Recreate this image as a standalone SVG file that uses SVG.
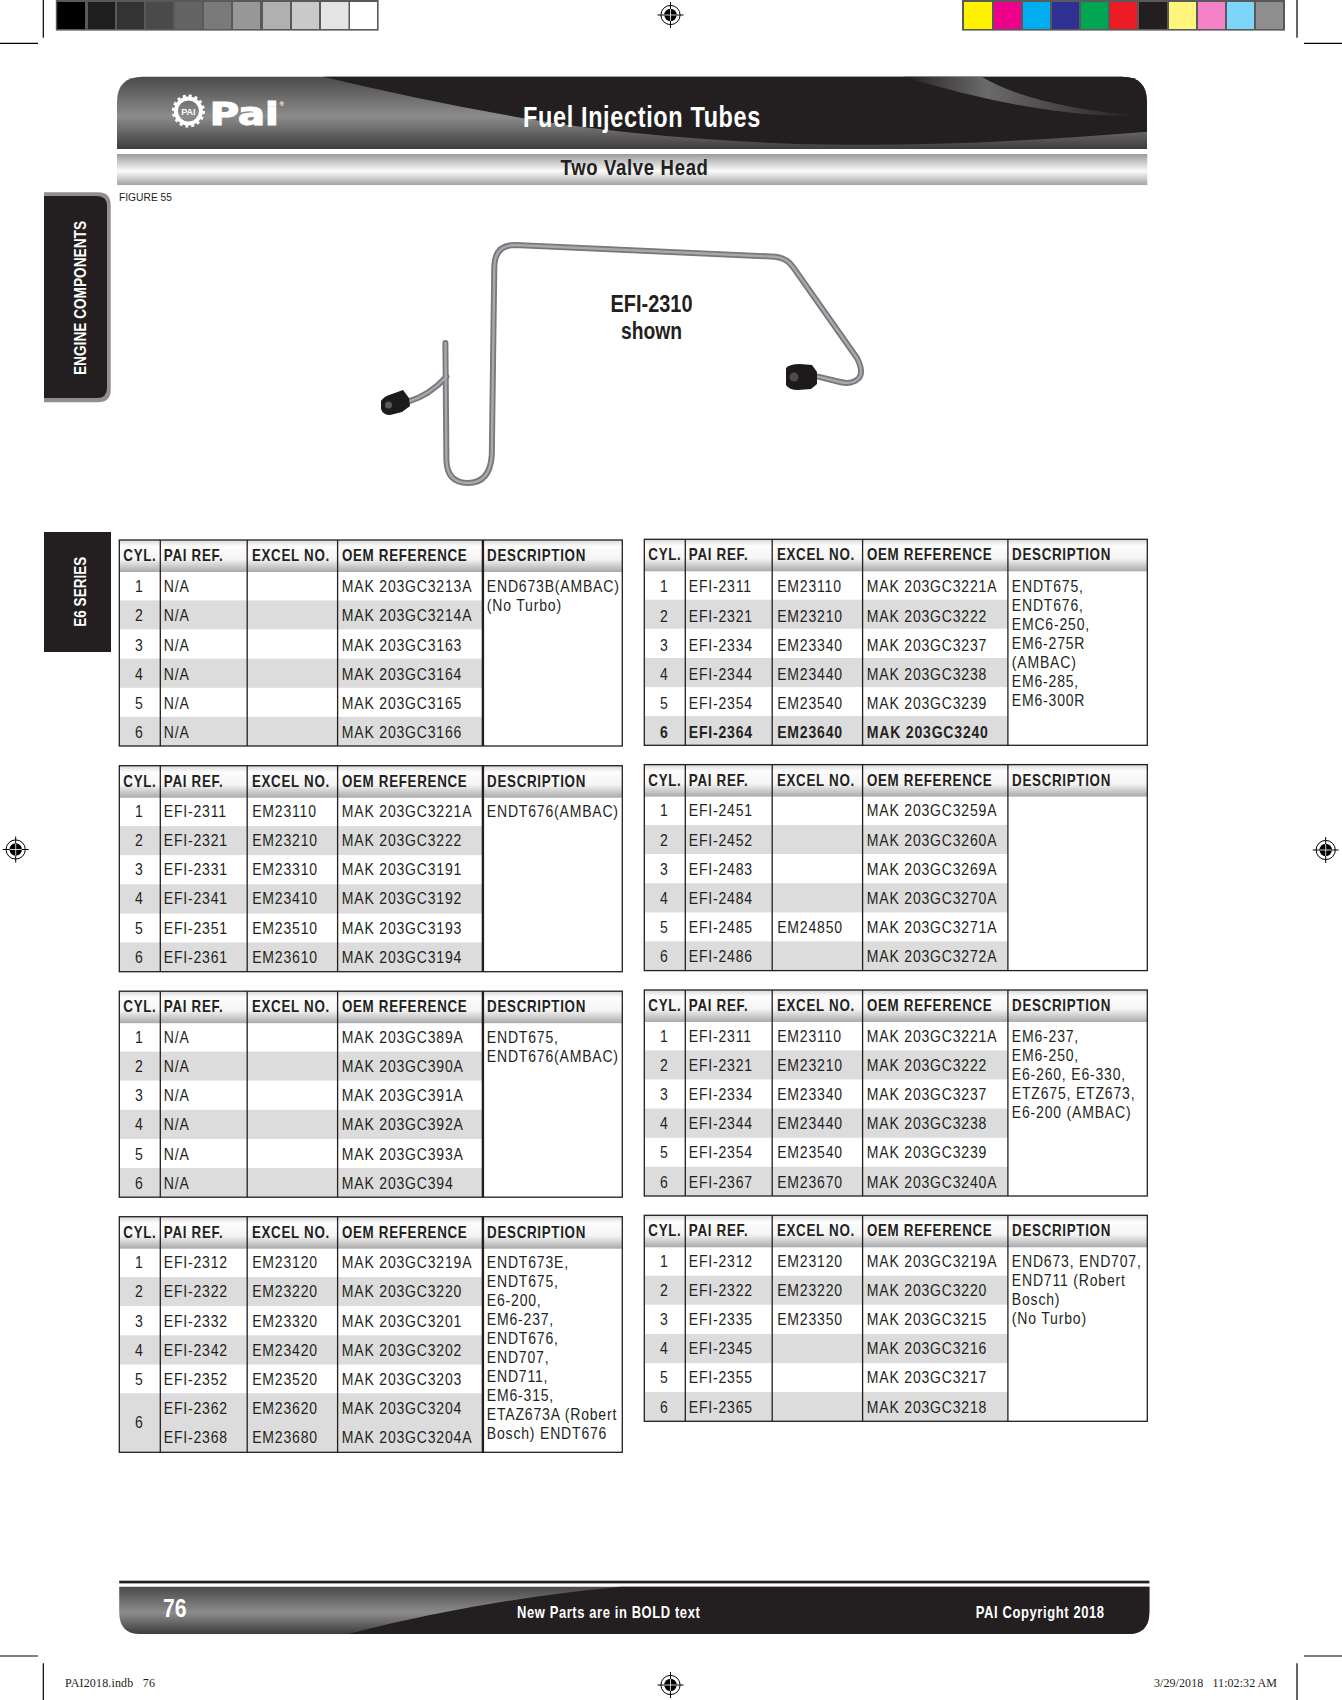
<svg xmlns="http://www.w3.org/2000/svg" width="1342" height="1700" viewBox="0 0 1342 1700">
<style>
text{font-family:"Liberation Sans",Arial,sans-serif;fill:#231f20}
.t text{font-size:16.3px;letter-spacing:.95px;transform-box:fill-box;transform-origin:0 50%;transform:scaleX(.86)}
.t text.c{text-anchor:middle;transform-origin:50% 50%}
.b text,text.b{font-weight:bold}
.h text{font-size:16.3px;font-weight:bold;letter-spacing:.85px;transform-box:fill-box;transform-origin:0 50%;transform:scaleX(.82)}
text.w{fill:#fff;font-weight:bold}
text.ls{letter-spacing:.8px}
.s{font-family:"Liberation Serif",serif;font-size:12px}
.tube{fill:none;stroke:#77777c;stroke-width:6;stroke-linecap:round;stroke-linejoin:round}
.tube2{fill:none;stroke:#a9a9ad;stroke-width:2.4;stroke-linecap:round;stroke-linejoin:round}
.crop{stroke:#000;stroke-width:1.2;fill:none}
</style>
<defs>
<linearGradient id="hg" x1="0" y1="0" x2="0" y2="1"><stop offset="0" stop-color="#d8d8d8"/><stop offset=".2" stop-color="#fdfdfd"/><stop offset=".6" stop-color="#f4f4f4"/><stop offset="1" stop-color="#aaa"/></linearGradient>
<linearGradient id="dk" x1="0" y1="0" x2="0" y2="1"><stop offset="0" stop-color="#4a4a4c"/><stop offset=".55" stop-color="#8c8c8c"/><stop offset="1" stop-color="#3e3c3d"/></linearGradient>
<linearGradient id="sub" x1="0" y1="0" x2="0" y2="1"><stop offset="0" stop-color="#9b9b9b"/><stop offset=".55" stop-color="#fbfbfb"/><stop offset="1" stop-color="#a3a3a3"/></linearGradient>
<linearGradient id="sw" x1="0" y1="0" x2="1" y2="0"><stop offset="0" stop-color="#231f20"/><stop offset=".35" stop-color="#6a6a6a"/><stop offset="1" stop-color="#231f20"/></linearGradient>
<g id="reg"><circle r="9.6" fill="#fff" stroke="#000" stroke-width="1"/><circle r="6.2" fill="#000"/><path d="M-13 0H13M0-13V13" stroke="#000" stroke-width="1"/><path d="M-6 0H6M0-6V6" stroke="#fff" stroke-width=".8"/></g>
<g id="hdr" class="h"><rect width="503" height="32" fill="url(#hg)"/><text x="4" y="21.200">CYL.</text><text x="44.500" y="21.200">PAI REF.</text><text x="132.600" y="21.200">EXCEL NO.</text><text x="222.600" y="21.200">OEM REFERENCE</text><text x="367.800" y="21.200">DESCRIPTION</text></g>
<g id="shade" fill="#dcdcdc"><rect y="60.400" width="363.600" height="29"/><rect y="118.600" width="363.600" height="29.200"/><rect y="176.800" width="363.600" height="29.200"/></g>
<g id="cols" stroke="#231f20" stroke-width="1.300"><path d="M41 0V206M127.900 0V206M218.300 0V206"/><rect width="503" height="206" fill="none"/></g>
<path id="c4t" d="M363.600 0V206" stroke="#231f20" stroke-width="2.400"/>
<path id="c4r" d="M363.600 0V206" stroke="#231f20" stroke-width="1.300"/>
</defs>
<rect width="1342" height="1700" fill="#fff"/>
<g id="printer-marks">
<path class="crop" d="M43.300 0V37.700M0 43.300H38M1297 0V37.700M1304 43.300H1342M0 1656H38M43.300 1663.300V1700M1304 1656H1342M1297 1663.300V1700"/>
<rect x="55.800" y="-2" width="322.800" height="32.600" fill="#58595b"/>
<g id="gray-bar"><rect x="57.200" y="2" width="27.800" height="27" fill="#000"/><rect x="88" y="2" width="27" height="27" fill="#1e1e1e"/><rect x="117" y="2" width="27" height="27" fill="#333"/><rect x="146" y="2" width="27" height="27" fill="#4a4a4a"/><rect x="175" y="2" width="27" height="27" fill="#636363"/><rect x="204" y="2" width="27" height="27" fill="#7a7a7a"/><rect x="233" y="2" width="27" height="27" fill="#979797"/><rect x="263" y="2" width="27" height="27" fill="#b0b0b0"/><rect x="292" y="2" width="27" height="27" fill="#c9c9c9"/><rect x="321" y="2" width="27.500" height="27" fill="#e4e4e4"/><rect x="350" y="2" width="27" height="27" fill="#fff"/></g>
<rect x="962" y="-2" width="323" height="32.600" fill="#58595b"/>
<g id="color-bar"><rect x="964" y="2" width="28" height="27" fill="#fff200"/><rect x="994" y="2" width="27" height="27" fill="#ec008c"/><rect x="1023" y="2" width="27" height="27" fill="#00aeef"/><rect x="1052" y="2" width="27" height="27" fill="#2e3192"/><rect x="1081" y="2" width="27" height="27" fill="#00a651"/><rect x="1110" y="2" width="27" height="27" fill="#ed1c24"/><rect x="1139" y="2" width="28" height="27" fill="#231f20"/><rect x="1169" y="2" width="27" height="27" fill="#fff57d"/><rect x="1198" y="2" width="27" height="27" fill="#f582c6"/><rect x="1227" y="2" width="27" height="27" fill="#7dd6fa"/><rect x="1256" y="2" width="27" height="27" fill="#8e8e8e"/></g>
<use href="#reg" x="670.500" y="15"/><use href="#reg" x="15.700" y="849.500"/><use href="#reg" x="1325.700" y="850"/><use href="#reg" x="670.500" y="1685"/>
</g>
<g id="title-band">
<path d="M117 149V102Q117 76.700 143 76.700H1122Q1147 76.700 1147 102V149Z" fill="url(#dk)"/>
<path d="M323 76.700H1122Q1147 76.700 1147 102V131.700Q950 148 798 144Q640 138 522 118Q420 100 323 76.700Z" fill="#231f20"/>
<path d="M903.700 76.700H981.800Q1030 106 1140 116Q1040 118 903.700 76.700Z" fill="url(#sw)"/>
<g id="pai-logo"><circle cx="188.400" cy="111" r="12.500" fill="none" stroke="#fff" stroke-width="4"/><circle cx="188.400" cy="111" r="15.300" fill="none" stroke="#fff" stroke-width="2.500" stroke-dasharray="3 3"/><text x="188.400" y="114.500" text-anchor="middle" font-size="9" class="w">PAI</text><text x="209.800" y="125" class="w" style="font-family:'DejaVu Sans'" stroke="#fff" stroke-width="1.200" font-size="32" textLength="69" lengthAdjust="spacingAndGlyphs">Pai</text><text x="279.500" y="106" class="w" font-size="6">®</text></g>
<text x="523" y="127.300" class="w ls" font-size="29" textLength="238" lengthAdjust="spacingAndGlyphs">Fuel Injection Tubes</text>
</g>
<g id="subtitle-band"><rect x="117" y="154" width="1030.300" height="31" fill="url(#sub)"/><text x="560.600" y="175" class="b ls" font-size="22" textLength="148" lengthAdjust="spacingAndGlyphs">Two Valve Head</text></g>
<text id="figure-label" x="119" y="200.500" font-size="11.500" textLength="53" lengthAdjust="spacingAndGlyphs">FIGURE 55</text>
<g id="tab-engine"><path d="M44 192.300H98Q110.700 192.300 110.700 205V390Q110.700 402.300 98 402.300H44Z" fill="#8f8f8f"/><path d="M44 196H97Q107 196 107 206V388Q107 398 97 398H44Z" fill="#231f20"/><text transform="translate(85.700 375) rotate(-90)" class="w" font-size="16.500" textLength="154" lengthAdjust="spacingAndGlyphs">ENGINE COMPONENTS</text></g>
<g id="tab-e6"><rect x="44" y="532" width="67" height="120" fill="#231f20"/><text transform="translate(85.600 626.700) rotate(-90)" class="w" font-size="16.500" textLength="70" lengthAdjust="spacingAndGlyphs">E6 SERIES</text></g>
<g id="tube-figure">
<path class="tube" d="M445.400 343L446.400 460Q447 483 468 483Q490 483 491.800 455L494.300 266Q495 245 515 245L775 256.700Q787 258 793 267L857 358Q864 372 859 378Q852 385 840 382L818 376.700"/>
<path class="tube" d="M446.400 376.700Q430 395 408 401.700"/>
<path class="tube2" d="M445.400 343L446.400 460Q447 483 468 483Q490 483 491.800 455L494.300 266Q495 245 515 245L775 256.700Q787 258 793 267L857 358Q864 372 859 378Q852 385 840 382L818 376.700"/>
<path class="tube2" d="M446.400 376.700Q430 395 408 401.700"/>
<path d="M786 368Q790 364 800 364L812 365L817 372V384L811 389L798 390Q789 390 786 385Z" fill="#1c1a1b"/><circle cx="794" cy="377" r="4.500" fill="#4c4a4b"/>
<path d="M381 401Q384 396 392 394L403 390L409 398L410 406L402 412L390 415Q383 415 381 409Z" fill="#1c1a1b"/><circle cx="388.500" cy="405" r="3.500" fill="#5c5a5b"/>
<text x="610.500" y="311.700" class="b" font-size="23" textLength="82" lengthAdjust="spacingAndGlyphs">EFI-2310</text>
<text x="621" y="339" class="b" font-size="23" textLength="61" lengthAdjust="spacingAndGlyphs">shown</text>
</g>

<g id="table-1" transform="translate(119.300 540)"><use href="#shade"/><use href="#hdr"/><use href="#cols"/><use href="#c4t"/><g class="t" transform="translate(-.5 -.6)">
<g transform="translate(0 52.800)"><text class="c" x="20.500">1</text><text x="45">N/A</text><text x="223">MAK 203GC3213A</text><text x="368">END673B(AMBAC)</text><text x="368" y="19">(No Turbo)</text></g>
<g transform="translate(0 81.950)"><text class="c" x="20.500">2</text><text x="45">N/A</text><text x="223">MAK 203GC3214A</text></g>
<g transform="translate(0 111.100)"><text class="c" x="20.500">3</text><text x="45">N/A</text><text x="223">MAK 203GC3163</text></g>
<g transform="translate(0 140.250)"><text class="c" x="20.500">4</text><text x="45">N/A</text><text x="223">MAK 203GC3164</text></g>
<g transform="translate(0 169.400)"><text class="c" x="20.500">5</text><text x="45">N/A</text><text x="223">MAK 203GC3165</text></g>
<g transform="translate(0 198.550)"><text class="c" x="20.500">6</text><text x="45">N/A</text><text x="223">MAK 203GC3166</text></g>
</g></g>

<g id="table-2" transform="translate(644.300 539.300)"><use href="#shade"/><use href="#hdr"/><use href="#cols"/><use href="#c4r"/><g class="t" transform="translate(-.5 .3)">
<g transform="translate(0 52.800)"><text class="c" x="20.500">1</text><text x="45">EFI-2311</text><text x="133.400">EM23110</text><text x="223">MAK 203GC3221A</text><text x="368">ENDT675,</text><text x="368" y="19">ENDT676,</text><text x="368" y="38">EMC6-250,</text><text x="368" y="57">EM6-275R</text><text x="368" y="76">(AMBAC)</text><text x="368" y="95">EM6-285,</text><text x="368" y="114">EM6-300R</text></g>
<g transform="translate(0 81.950)"><text class="c" x="20.500">2</text><text x="45">EFI-2321</text><text x="133.400">EM23210</text><text x="223">MAK 203GC3222</text></g>
<g transform="translate(0 111.100)"><text class="c" x="20.500">3</text><text x="45">EFI-2334</text><text x="133.400">EM23340</text><text x="223">MAK 203GC3237</text></g>
<g transform="translate(0 140.250)"><text class="c" x="20.500">4</text><text x="45">EFI-2344</text><text x="133.400">EM23440</text><text x="223">MAK 203GC3238</text></g>
<g transform="translate(0 169.400)"><text class="c" x="20.500">5</text><text x="45">EFI-2354</text><text x="133.400">EM23540</text><text x="223">MAK 203GC3239</text></g>
<g transform="translate(0 198.550)" class="b"><text class="c" x="20.500">6</text><text x="45">EFI-2364</text><text x="133.400">EM23640</text><text x="223">MAK 203GC3240</text></g>
</g></g>

<g id="table-3" transform="translate(119.300 765.700)"><use href="#shade"/><use href="#hdr"/><use href="#cols"/><use href="#c4t"/><g class="t" transform="translate(-.5 -1.500)">
<g transform="translate(0 52.800)"><text class="c" x="20.500">1</text><text x="45">EFI-2311</text><text x="133.400">EM23110</text><text x="223">MAK 203GC3221A</text><text x="368">ENDT676(AMBAC)</text></g>
<g transform="translate(0 81.950)"><text class="c" x="20.500">2</text><text x="45">EFI-2321</text><text x="133.400">EM23210</text><text x="223">MAK 203GC3222</text></g>
<g transform="translate(0 111.100)"><text class="c" x="20.500">3</text><text x="45">EFI-2331</text><text x="133.400">EM23310</text><text x="223">MAK 203GC3191</text></g>
<g transform="translate(0 140.250)"><text class="c" x="20.500">4</text><text x="45">EFI-2341</text><text x="133.400">EM23410</text><text x="223">MAK 203GC3192</text></g>
<g transform="translate(0 169.400)"><text class="c" x="20.500">5</text><text x="45">EFI-2351</text><text x="133.400">EM23510</text><text x="223">MAK 203GC3193</text></g>
<g transform="translate(0 198.550)"><text class="c" x="20.500">6</text><text x="45">EFI-2361</text><text x="133.400">EM23610</text><text x="223">MAK 203GC3194</text></g>
</g></g>

<g id="table-4" transform="translate(644.300 764.600)"><use href="#shade"/><use href="#hdr"/><use href="#cols"/><use href="#c4r"/><g class="t" transform="translate(-.5 -1)">
<g transform="translate(0 52.800)"><text class="c" x="20.500">1</text><text x="45">EFI-2451</text><text x="223">MAK 203GC3259A</text></g>
<g transform="translate(0 81.950)"><text class="c" x="20.500">2</text><text x="45">EFI-2452</text><text x="223">MAK 203GC3260A</text></g>
<g transform="translate(0 111.100)"><text class="c" x="20.500">3</text><text x="45">EFI-2483</text><text x="223">MAK 203GC3269A</text></g>
<g transform="translate(0 140.250)"><text class="c" x="20.500">4</text><text x="45">EFI-2484</text><text x="223">MAK 203GC3270A</text></g>
<g transform="translate(0 169.400)"><text class="c" x="20.500">5</text><text x="45">EFI-2485</text><text x="133.400">EM24850</text><text x="223">MAK 203GC3271A</text></g>
<g transform="translate(0 198.550)"><text class="c" x="20.500">6</text><text x="45">EFI-2486</text><text x="223">MAK 203GC3272A</text></g>
</g></g>

<g id="table-5" transform="translate(119.300 991.200)"><use href="#shade"/><use href="#hdr"/><use href="#cols"/><use href="#c4t"/><g class="t" transform="translate(-.5 -1)">
<g transform="translate(0 52.800)"><text class="c" x="20.500">1</text><text x="45">N/A</text><text x="223">MAK 203GC389A</text><text x="368">ENDT675,</text><text x="368" y="19">ENDT676(AMBAC)</text></g>
<g transform="translate(0 81.950)"><text class="c" x="20.500">2</text><text x="45">N/A</text><text x="223">MAK 203GC390A</text></g>
<g transform="translate(0 111.100)"><text class="c" x="20.500">3</text><text x="45">N/A</text><text x="223">MAK 203GC391A</text></g>
<g transform="translate(0 140.250)"><text class="c" x="20.500">4</text><text x="45">N/A</text><text x="223">MAK 203GC392A</text></g>
<g transform="translate(0 169.400)"><text class="c" x="20.500">5</text><text x="45">N/A</text><text x="223">MAK 203GC393A</text></g>
<g transform="translate(0 198.550)"><text class="c" x="20.500">6</text><text x="45">N/A</text><text x="223">MAK 203GC394</text></g>
</g></g>

<g id="table-6" transform="translate(644.300 990)"><use href="#shade"/><use href="#hdr"/><use href="#cols"/><use href="#c4r"/><g class="t" transform="translate(-.5 -1)">
<g transform="translate(0 52.800)"><text class="c" x="20.500">1</text><text x="45">EFI-2311</text><text x="133.400">EM23110</text><text x="223">MAK 203GC3221A</text><text x="368">EM6-237,</text><text x="368" y="19">EM6-250,</text><text x="368" y="38">E6-260, E6-330,</text><text x="368" y="57">ETZ675, ETZ673,</text><text x="368" y="76">E6-200 (AMBAC)</text></g>
<g transform="translate(0 81.950)"><text class="c" x="20.500">2</text><text x="45">EFI-2321</text><text x="133.400">EM23210</text><text x="223">MAK 203GC3222</text></g>
<g transform="translate(0 111.100)"><text class="c" x="20.500">3</text><text x="45">EFI-2334</text><text x="133.400">EM23340</text><text x="223">MAK 203GC3237</text></g>
<g transform="translate(0 140.250)"><text class="c" x="20.500">4</text><text x="45">EFI-2344</text><text x="133.400">EM23440</text><text x="223">MAK 203GC3238</text></g>
<g transform="translate(0 169.400)"><text class="c" x="20.500">5</text><text x="45">EFI-2354</text><text x="133.400">EM23540</text><text x="223">MAK 203GC3239</text></g>
<g transform="translate(0 198.550)"><text class="c" x="20.500">6</text><text x="45">EFI-2367</text><text x="133.400">EM23670</text><text x="223">MAK 203GC3240A</text></g>
</g></g>

<g id="table-7" transform="translate(119.300 1216.700)"><use href="#shade"/><rect y="176.800" width="363.600" height="58.800" fill="#dcdcdc"/><use href="#hdr"/><g stroke="#231f20" stroke-width="1.300"><path d="M41 0V235.600M127.900 0V235.600M218.300 0V235.600"/><path d="M363.600 0V235.600" stroke-width="2.400"/><rect width="503" height="235.600" fill="none"/></g><g class="t" transform="translate(-.5 -1.200)">
<g transform="translate(0 52.800)"><text class="c" x="20.500">1</text><text x="45">EFI-2312</text><text x="133.400">EM23120</text><text x="223">MAK 203GC3219A</text><text x="368">ENDT673E,</text><text x="368" y="19">ENDT675,</text><text x="368" y="38">E6-200,</text><text x="368" y="57">EM6-237,</text><text x="368" y="76">ENDT676,</text><text x="368" y="95">END707,</text><text x="368" y="114">END711,</text><text x="368" y="133">EM6-315,</text><text x="368" y="152">ETAZ673A (Robert</text><text x="368" y="171">Bosch) ENDT676</text></g>
<g transform="translate(0 81.950)"><text class="c" x="20.500">2</text><text x="45">EFI-2322</text><text x="133.400">EM23220</text><text x="223">MAK 203GC3220</text></g>
<g transform="translate(0 111.100)"><text class="c" x="20.500">3</text><text x="45">EFI-2332</text><text x="133.400">EM23320</text><text x="223">MAK 203GC3201</text></g>
<g transform="translate(0 140.250)"><text class="c" x="20.500">4</text><text x="45">EFI-2342</text><text x="133.400">EM23420</text><text x="223">MAK 203GC3202</text></g>
<g transform="translate(0 169.400)"><text class="c" x="20.500">5</text><text x="45">EFI-2352</text><text x="133.400">EM23520</text><text x="223">MAK 203GC3203</text></g>
<g transform="translate(0 198.550)"><text x="45">EFI-2362</text><text x="133.400">EM23620</text><text x="223">MAK 203GC3204</text></g>
<text class="c" x="20.500" y="213">6</text>
<g transform="translate(0 227.700)"><text x="45">EFI-2368</text><text x="133.400">EM23680</text><text x="223">MAK 203GC3204A</text></g>
</g></g>

<g id="table-8" transform="translate(644.300 1215.300)"><use href="#shade"/><use href="#hdr"/><use href="#cols"/><use href="#c4r"/><g class="t" transform="translate(-.5 -1.300)">
<g transform="translate(0 52.800)"><text class="c" x="20.500">1</text><text x="45">EFI-2312</text><text x="133.400">EM23120</text><text x="223">MAK 203GC3219A</text><text x="368">END673, END707,</text><text x="368" y="19">END711 (Robert</text><text x="368" y="38">Bosch)</text><text x="368" y="57">(No Turbo)</text></g>
<g transform="translate(0 81.950)"><text class="c" x="20.500">2</text><text x="45">EFI-2322</text><text x="133.400">EM23220</text><text x="223">MAK 203GC3220</text></g>
<g transform="translate(0 111.100)"><text class="c" x="20.500">3</text><text x="45">EFI-2335</text><text x="133.400">EM23350</text><text x="223">MAK 203GC3215</text></g>
<g transform="translate(0 140.250)"><text class="c" x="20.500">4</text><text x="45">EFI-2345</text><text x="223">MAK 203GC3216</text></g>
<g transform="translate(0 169.400)"><text class="c" x="20.500">5</text><text x="45">EFI-2355</text><text x="223">MAK 203GC3217</text></g>
<g transform="translate(0 198.550)"><text class="c" x="20.500">6</text><text x="45">EFI-2365</text><text x="223">MAK 203GC3218</text></g>
</g></g>

<g id="footer-band">
<rect x="119.200" y="1580.700" width="1030.200" height="2.700" fill="#231f20"/>
<path d="M119.200 1586.700H1149.400V1612Q1149.400 1634 1128 1634H140Q119.200 1634 119.200 1612Z" fill="url(#dk)"/>
<path d="M620.500 1586.700H1149.400V1612Q1149.400 1634 1128 1634H348Q480 1600 620.500 1586.700Z" fill="#231f20"/>
<text x="163" y="1616.700" class="w" font-size="25.600" textLength="23.600" lengthAdjust="spacingAndGlyphs">76</text>
<text x="517" y="1618.300" class="w ls" font-size="17" textLength="183.400" lengthAdjust="spacingAndGlyphs">New Parts are in BOLD text</text>
<text x="975.700" y="1618.300" class="w ls" font-size="17" textLength="129" lengthAdjust="spacingAndGlyphs">PAI Copyright 2018</text>
</g>
<g id="slug"><text class="s" x="65" y="1687" xml:space="preserve" textLength="90" lengthAdjust="spacing">PAI2018.indb   76</text><text class="s" x="1154" y="1687" xml:space="preserve" textLength="123" lengthAdjust="spacing">3/29/2018   11:02:32 AM</text></g>
</svg>
